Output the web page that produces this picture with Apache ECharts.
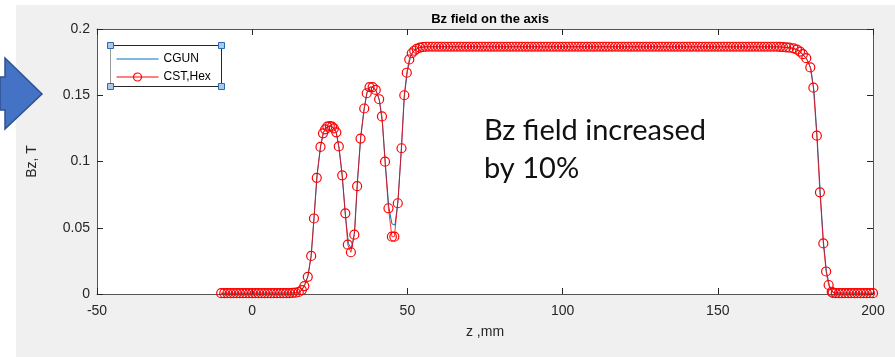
<!DOCTYPE html>
<html>
<head>
<meta charset="utf-8">
<script src="https://cdn.jsdelivr.net/npm/echarts@6/dist/echarts.min.js"></script>
<style>
html,body{margin:0;padding:0;background:#ffffff;}
#chart{width:895px;height:357px;}
</style>
</head>
<body>
<div id="chart"></div>
<script>
// ---- data ----
var title = 'Bz field on the axis';
var xName = 'z ,mm';
var yName = 'Bz, T';
var xTicks = [-50, 0, 50, 100, 150, 200];
var yTicks = [0, 0.05, 0.1, 0.15, 0.2];
var seriesNames = ['CGUN', 'CST,Hex'];
var note = ['Bz field increased', 'by 10%'];

// CST,Hex (red circles): z in mm
var cstZ = [
  -10,-9,-8,-7,-6,-5,-4,-3,-2,-1,0,1,2,3,4,5,6,7,8,9,10,11,12,13,14,15,
  16.0,16.8,17.9,19.0,19.9,20.8,22.0,22.8,23.5,24.2,25.0,25.7,26.3,27.1,27.9,29.0,30.0,30.8,31.8,
  32.9,33.8,34.9,36.1,36.9,37.8,38.8,39.8,40.9,41.8,42.8,43.9,45.0,45.8,46.9,48.1,49.0,49.8,50.6,51.4,52.2,53.0,54.0,
  55,56,57,58,59,60,61,62,63,64,65,66,67,68,69,70,71,72,73,74,75,76,77,78,79,80,
  81,82,83,84,85,86,87,88,89,90,91,92,93,94,95,96,97,98,99,100,101,102,103,104,105,
  106,107,108,109,110,111,112,113,114,115,116,117,118,119,120,121,122,123,124,125,126,127,128,129,130,
  131,132,133,134,135,136,137,138,139,140,141,142,143,144,145,146,147,148,149,150,151,152,153,154,155,
  156,157,158,159,160,161,162,163,164,165,166,167,168,169,170,171,172,173,
  174.4,175.5,176.5,177.4,178.5,179.8,180.8,181.9,182.9,184.0,184.9,185.7,186.7,
  187,188,189,190,191,192,193,194,195,196,197,198,199,200
];
// CST,Hex Bz in T
var cstBz = [
  0.0006,0.0006,0.0006,0.0006,0.0006,0.0006,0.0006,0.0006,0.0006,0.0006,0.0006,0.0006,0.0006,0.0006,0.0006,0.0006,0.0006,0.0006,0.0006,0.0006,0.0006,0.0006,0.0007,0.0008,0.0010,0.0015,
  0.003,0.006,0.013,0.0287,0.057,0.0877,0.111,0.1213,0.1243,0.1263,0.1268,0.1263,0.125,0.122,0.1114,0.0896,0.0609,0.0372,0.0315,
  0.0448,0.0814,0.1173,0.140,0.1515,0.1562,0.1562,0.154,0.147,0.134,0.0999,0.0647,0.0433,0.0433,0.0685,0.110,0.150,0.167,0.177,0.1817,0.1836,0.185,0.186,
  0.1864,0.1866,0.1866,0.1866,0.1866,0.1866,0.1866,0.1866,0.1866,0.1866,0.1866,0.1866,0.1866,0.1866,0.1866,0.1866,0.1866,0.1866,0.1866,0.1866,0.1866,0.1866,0.1866,0.1866,0.1866,0.1866,
  0.1866,0.1866,0.1866,0.1866,0.1866,0.1866,0.1866,0.1866,0.1866,0.1866,0.1866,0.1866,0.1866,0.1866,0.1866,0.1866,0.1866,0.1866,0.1866,0.1866,0.1866,0.1866,0.1866,0.1866,0.1866,
  0.1866,0.1866,0.1866,0.1866,0.1866,0.1866,0.1866,0.1866,0.1866,0.1866,0.1866,0.1866,0.1866,0.1866,0.1866,0.1866,0.1866,0.1866,0.1866,0.1866,0.1866,0.1866,0.1866,0.1866,0.1866,
  0.1866,0.1866,0.1866,0.1866,0.1866,0.1866,0.1866,0.1866,0.1866,0.1866,0.1866,0.1866,0.1866,0.1866,0.1866,0.1866,0.1866,0.1866,0.1866,0.1866,0.1866,0.1866,0.1866,0.1866,0.1866,
  0.1866,0.1866,0.1866,0.1866,0.1866,0.1866,0.1866,0.1866,0.1866,0.1866,0.1866,0.1866,0.1866,0.1866,0.1865,0.1864,0.1862,0.1859,
  0.1854,0.1845,0.183,0.181,0.178,0.171,0.1557,0.1195,0.0767,0.0382,0.017,0.0068,0.0017,
  0.0008,0.0007,0.0006,0.0006,0.0006,0.0006,0.0006,0.0006,0.0006,0.0006,0.0006,0.0006,0.0006,0.0006
];

// CGUN (blue line): z in mm and Bz in T
var cgunZ = [
  -10,15,16,17,18,19,20,21,22,23,24,25,26,27,28,29,30,31,32,33,34,35,36,37,38,39,40,
  41,42,43,44,45,46,47,48,49,50,51,52,53,54,56,170,174,176,178,179,180,181,182,183,184,
  185,186,187,188,200
];
var cgunBz = [
  0.0006,0.0008,0.003,0.0075,0.014,0.029,0.060,0.092,0.111,0.122,0.126,0.1268,0.1258,0.1225,0.110,0.089,0.060,0.038,0.034,0.047,0.088,0.119,0.139,0.152,0.1562,0.156,0.153,
  0.146,0.128,0.095,0.066,0.053,0.052,0.071,0.108,0.149,0.168,0.179,0.1835,0.185,0.186,0.1866,0.1865,0.1855,0.1838,0.179,0.176,0.170,0.153,0.118,0.077,0.040,
  0.017,0.006,0.0015,0.0008,0.0006
];

function pairs(xs, ys) {
  var out = [];
  for (var i = 0; i < xs.length; i++) out.push([xs[i], ys[i]]);
  return out;
}

var FONT = '"Liberation Sans", Arial, Helvetica, sans-serif';
var AX = '#262626';
var G = { left: 97, top: 29, width: 776, height: 265 };

var chart = echarts.init(document.getElementById('chart'), null, { renderer: 'canvas' });

var xCommon = {
  type: 'value', min: xTicks[0], max: xTicks[xTicks.length - 1], interval: xTicks[1] - xTicks[0],
  splitLine: { show: false }
};
var yCommon = {
  type: 'value', min: yTicks[0], max: yTicks[yTicks.length - 1], interval: yTicks[1] - yTicks[0],
  splitLine: { show: false }
};

var option = {
  animation: false,
  backgroundColor: '#ffffff',
  title: {
    text: title, left: G.left + G.width / 2, top: 8, textAlign: 'center',
    textStyle: { fontFamily: FONT, fontSize: 13, fontWeight: 'bold', color: '#000' }
  },
  grid: { left: G.left, top: G.top, width: G.width, height: G.height, show: true, backgroundColor: '#ffffff', borderWidth: 0 },
  legend: {
    z: 80, zlevel: 0,
    orient: 'vertical', left: 116, top: 52, padding: 0,
    itemWidth: 42, itemHeight: 10, itemGap: 4,
    textStyle: { fontFamily: FONT, fontSize: 12, color: '#000', lineHeight: 14, padding: [0, 0, 0, 0] },
    data: [
      { name: seriesNames[0], itemStyle: { color: 'rgba(0,0,0,0)', borderWidth: 0, opacity: 0 }, lineStyle: { width: 1, color: '#0072BD' } },
      { name: seriesNames[1], itemStyle: { color: 'rgba(255,255,255,0)', borderColor: '#ff0000', borderWidth: 1.2 }, lineStyle: { width: 1, color: '#ff0000' } }
    ]
  },
  xAxis: [
    Object.assign({}, xCommon, {
      position: 'bottom',
      name: xName, nameLocation: 'middle', nameGap: 31,
      nameTextStyle: { fontFamily: FONT, fontSize: 14, color: AX },
      axisLine: { show: true, onZero: false, lineStyle: { color: '#555', width: 1 } },
      axisTick: { show: true, inside: true, length: 6, lineStyle: { color: AX } },
      axisLabel: { show: true, margin: 10, fontFamily: FONT, fontSize: 14, color: AX }
    }),
    Object.assign({}, xCommon, {
      position: 'top',
      axisLine: { show: true, onZero: false, lineStyle: { color: '#555', width: 1 } },
      axisTick: { show: true, inside: true, length: 6, lineStyle: { color: AX } },
      axisLabel: { show: false }
    })
  ],
  yAxis: [
    Object.assign({}, yCommon, {
      position: 'left',
      name: yName, nameLocation: 'middle', nameGap: 58, nameRotate: 90,
      nameTextStyle: { fontFamily: FONT, fontSize: 14, color: AX },
      axisLine: { show: true, onZero: false, lineStyle: { color: '#555', width: 1 } },
      axisTick: { show: true, inside: true, length: 6, lineStyle: { color: AX } },
      axisLabel: { show: true, margin: 7, fontFamily: FONT, fontSize: 14, color: AX }
    }),
    Object.assign({}, yCommon, {
      position: 'right',
      axisLine: { show: true, onZero: false, lineStyle: { color: '#555', width: 1 } },
      axisTick: { show: true, inside: true, length: 6, lineStyle: { color: AX } },
      axisLabel: { show: false }
    })
  ],
  series: [
    {
      name: seriesNames[0], type: 'line', xAxisIndex: 0, yAxisIndex: 0,
      data: pairs(cgunZ, cgunBz),
      showSymbol: false, symbol: 'none',
      lineStyle: { color: '#0072BD', width: 1 },
      itemStyle: { color: '#0072BD' },
      z: 2
    },
    {
      name: seriesNames[1], type: 'line', xAxisIndex: 0, yAxisIndex: 0,
      data: pairs(cstZ, cstBz),
      symbol: 'circle', symbolSize: 9, showAllSymbol: true,
      lineStyle: { color: '#ff0000', width: 0.8 },
      itemStyle: { color: 'rgba(255,255,255,0)', borderColor: '#ff0000', borderWidth: 1.2 },
      z: 3
    }
  ],
  graphic: [
    // figure background
    { type: 'rect', z: -10, silent: true, shape: { x: 16, y: 5, width: 879, height: 352 }, style: { fill: '#f0f0f0' } },
    // blue block arrow at left
    { type: 'polygon', z: 100, silent: true,
      shape: { points: [[0, 77], [5, 77], [5, 58], [42, 94], [5, 129], [5, 110], [0, 110]] },
      style: { fill: '#4472C4', stroke: '#2F528F', lineWidth: 1.5 } },
    // legend box
    { type: 'rect', z: 5, silent: true, shape: { x: 110.5, y: 45.5, width: 111, height: 41 },
      style: { fill: '#ffffff', stroke: '#262626', lineWidth: 1 } },
    { type: 'line', z: 6, silent: true, shape: { x1: 110.5, y1: 45.5, x2: 110.5, y2: 86.5 }, style: { stroke: '#9a9a9a', lineWidth: 1 } },
    { type: 'rect', z: 90, silent: true, shape: { x: 107.5, y: 42.5, width: 6, height: 6 }, style: { fill: '#a9c8ea', stroke: '#2a6ab0', lineWidth: 1 } },
    { type: 'rect', z: 90, silent: true, shape: { x: 218.5, y: 42.5, width: 6, height: 6 }, style: { fill: '#a9c8ea', stroke: '#2a6ab0', lineWidth: 1 } },
    { type: 'rect', z: 90, silent: true, shape: { x: 107.5, y: 83.5, width: 6, height: 6 }, style: { fill: '#a9c8ea', stroke: '#2a6ab0', lineWidth: 1 } },
    { type: 'rect', z: 90, silent: true, shape: { x: 218.5, y: 83.5, width: 6, height: 6 }, style: { fill: '#a9c8ea', stroke: '#2a6ab0', lineWidth: 1 } },
    // annotation text
    { type: 'text', z: 60, silent: true, x: 484, y: 145,
      style: { text: note[0], fill: '#111', font: '29px Lato, "Open Sans", sans-serif', textAlign: 'left', textVerticalAlign: 'bottom' } },
    { type: 'text', z: 60, silent: true, x: 484, y: 183,
      style: { text: note[1], fill: '#111', font: '29px Lato, "Open Sans", sans-serif', textAlign: 'left', textVerticalAlign: 'bottom' } }
  ]
};

chart.setOption(option);
</script>
</body>
</html>
